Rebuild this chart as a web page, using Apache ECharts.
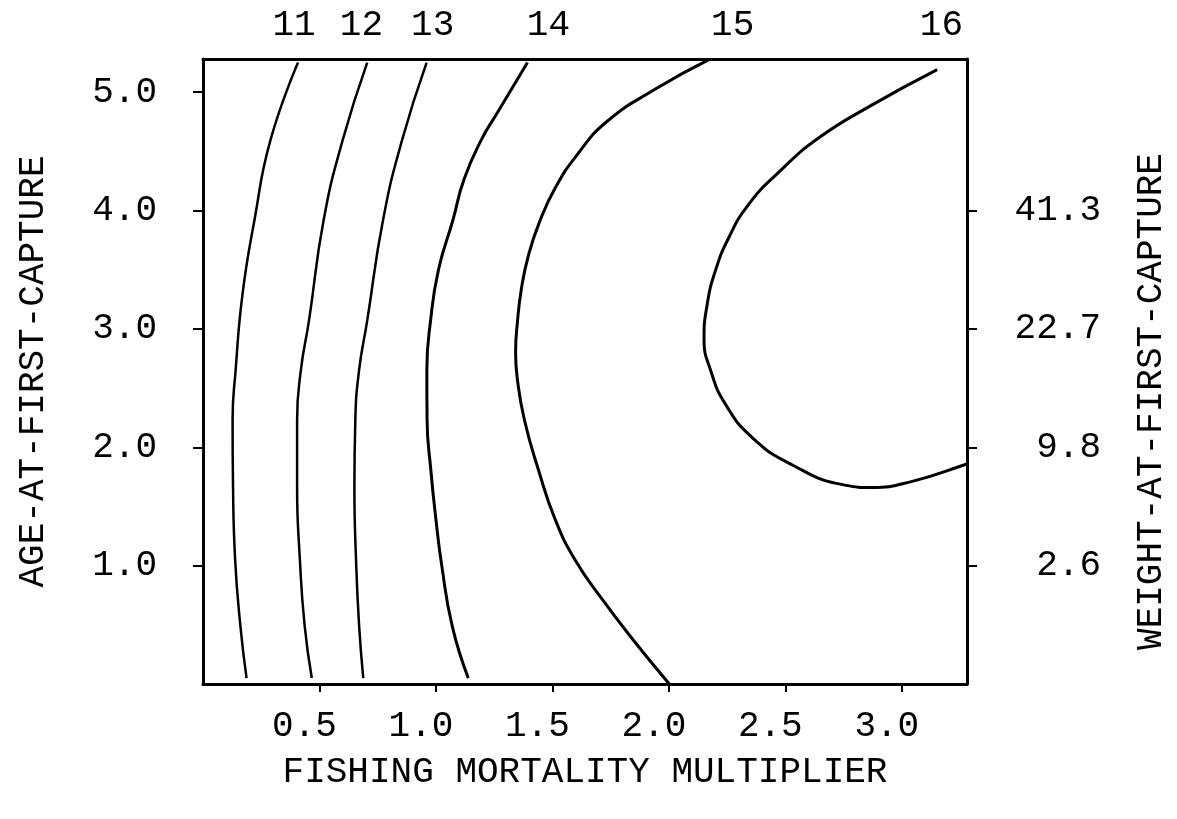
<!DOCTYPE html>
<html>
<head>
<meta charset="utf-8">
<script src="https://cdn.jsdelivr.net/npm/echarts@6/dist/echarts.min.js"></script>
<style>
  html, body { margin: 0; padding: 0; background: #fff; }
  #main { width: 1177px; height: 819px; }
</style>
</head>
<body>
<div id="main"></div>
<script>
// contour lines of yield: [fishing mortality multiplier, age at first capture]
const contour11 = [[0.408, 5.25], [0.289, 4.59], [0.221, 3.92], [0.170, 3.30], [0.140, 2.65], [0.127, 2.23], [0.129, 1.66], [0.138, 1.05], [0.160, 0.50], [0.187, 0.05]];
const contour12 = [[0.705, 5.25], [0.599, 4.59], [0.518, 3.92], [0.455, 3.07], [0.420, 2.65], [0.404, 2.23], [0.404, 1.66], [0.416, 1.05], [0.436, 0.50], [0.467, 0.05]];
const contour13 = [[0.960, 5.25], [0.854, 4.59], [0.773, 3.92], [0.705, 3.07], [0.670, 2.65], [0.654, 2.23], [0.650, 1.66], [0.657, 1.05], [0.670, 0.50], [0.688, 0.05]];
const contour14 = [[1.393, 5.25], [1.265, 4.83], [1.193, 4.59], [1.120, 4.26], [1.073, 3.92], [1.011, 3.50], [0.977, 3.07], [0.961, 2.65], [0.962, 2.23], [0.978, 1.81], [1.000, 1.39], [1.025, 1.00], [1.071, 0.48], [1.139, 0.05]];
const contour15 = [[2.168, 5.27], [1.946, 5.03], [1.733, 4.75], [1.606, 4.47], [1.512, 4.19], [1.444, 3.90], [1.397, 3.62], [1.367, 3.34], [1.350, 3.06], [1.342, 2.80], [1.350, 2.57], [1.380, 2.23], [1.440, 1.81], [1.512, 1.39], [1.597, 1.05], [1.716, 0.71], [1.848, 0.37], [2.002, 0.0]];
const contour16 = [[3.152, 5.19], [2.871, 4.89], [2.641, 4.61], [2.470, 4.32], [2.342, 4.05], [2.257, 3.77], [2.198, 3.48], [2.164, 3.20], [2.151, 2.92], [2.181, 2.64], [2.244, 2.36], [2.359, 2.08], [2.530, 1.85], [2.756, 1.68], [2.871, 1.66], [3.041, 1.71], [3.267, 1.85], [3.288, 1.87]];

const contourLevels = ['11', '12', '13', '14', '15', '16'];
const levelLabelX = [0.391, 0.680, 0.986, 1.483, 2.274, 3.170];

const xTicks = [0.5, 1.0, 1.5, 2.0, 2.5, 3.0];
const ageTicks = [1, 2, 3, 4, 5];
const weightTicks = [1, 2, 3, 4];
const weightLabels = ['2.6', '9.8', '22.7', '41.3'];

const FONT = "'Liberation Mono', monospace";
const INK = '#000';

const chart = echarts.init(document.getElementById('main'));

const axisLine = { show: true, onZero: false, lineStyle: { color: INK, width: 3 } };
const textStyle = { color: INK, fontFamily: FONT, fontSize: 36 };

const lines = [contour11, contour12, contour13, contour14, contour15, contour16];
const widths = [2.5, 2.5, 2.5, 3, 3, 3];

const option = {
  animation: false,
  backgroundColor: '#fff',
  grid: { left: 203, right: 204, top: 59, bottom: 135 },
  xAxis: [
    {
      type: 'value',
      position: 'bottom',
      min: 0,
      max: 3.28,
      axisLine: axisLine,
      axisTick: { show: true, customValues: xTicks, length: 8, lineStyle: { color: INK, width: 2 } },
      axisLabel: {
        customValues: xTicks,
        formatter: v => v.toFixed(1),
        margin: 24,
        padding: [0, 30, 0, 0],
        ...textStyle
      },
      splitLine: { show: false },
      name: 'FISHING MORTALITY MULTIPLIER',
      nameLocation: 'middle',
      nameGap: 70,
      nameTextStyle: textStyle
    },
    {
      type: 'value',
      position: 'top',
      min: 0,
      max: 3.28,
      axisLine: axisLine,
      axisTick: { show: false },
      axisLabel: {
        customValues: levelLabelX,
        formatter: v => {
          const i = levelLabelX.findIndex(p => Math.abs(p - v) < 1e-6);
          return i >= 0 ? contourLevels[i] : '';
        },
        margin: 16,
        ...textStyle
      },
      splitLine: { show: false }
    }
  ],
  yAxis: [
    {
      type: 'value',
      position: 'left',
      min: 0,
      max: 5.28,
      axisLine: axisLine,
      axisTick: { show: true, customValues: ageTicks, length: 10, lineStyle: { color: INK, width: 2 } },
      axisLabel: {
        customValues: ageTicks,
        formatter: v => v.toFixed(1),
        margin: 46,
        ...textStyle
      },
      splitLine: { show: false },
      name: 'AGE-AT-FIRST-CAPTURE',
      nameLocation: 'middle',
      nameRotate: 90,
      nameGap: 152,
      nameTextStyle: textStyle
    },
    {
      type: 'value',
      position: 'right',
      min: 0,
      max: 5.28,
      axisLine: axisLine,
      axisTick: { show: true, customValues: weightTicks, length: 10, lineStyle: { color: INK, width: 2 } },
      axisLabel: {
        customValues: weightTicks,
        formatter: v => weightLabels[weightTicks.indexOf(v)] || '',
        align: 'right',
        margin: 134,
        ...textStyle
      },
      splitLine: { show: false },
      name: 'WEIGHT-AT-FIRST-CAPTURE',
      nameLocation: 'middle',
      nameRotate: 90,
      nameGap: 166,
      nameTextStyle: { ...textStyle, padding: [0, 60, 0, 0] }
    }
  ],
  series: lines.map((d, i) => ({
    name: contourLevels[i],
    type: 'line',
    data: d,
    smooth: 0.5,
    symbol: 'none',
    lineStyle: { color: INK, width: widths[i] }
  }))
};

chart.setOption(option);
</script>
</body>
</html>
